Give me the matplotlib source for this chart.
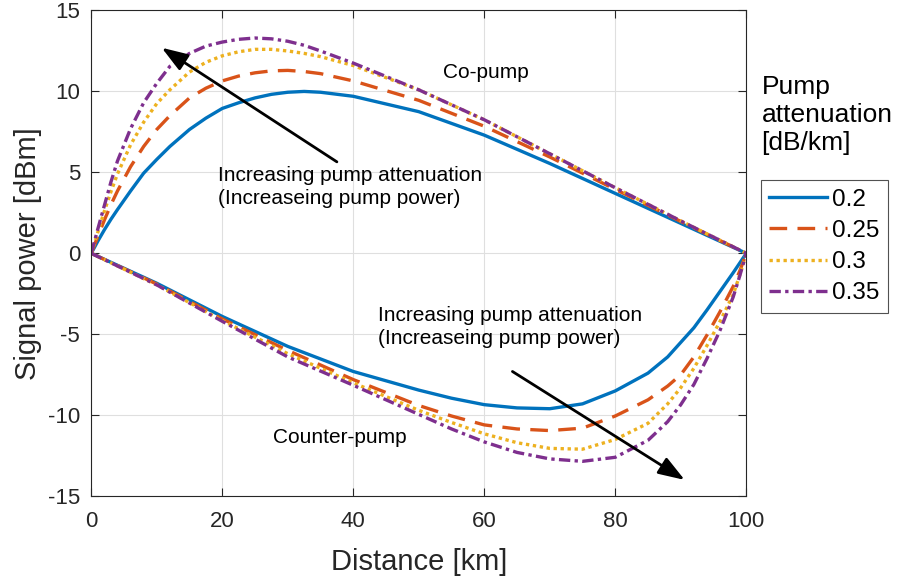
import numpy as np
import matplotlib
matplotlib.use("Agg")
import matplotlib.pyplot as plt

plt.rcParams['font.family'] = ['Liberation Sans', 'DejaVu Sans']
plt.rcParams['axes.unicode_minus'] = False

# pump attenuation values [dB/km]
attenuations = ['0.2', '0.25', '0.3', '0.35']

# co-pumped signal power [dBm] vs distance [km]
x_co = [0, 1, 2, 3, 4, 6, 8, 10, 12, 15, 17.5, 20, 22.5, 25, 27.5, 30, 32.5, 35, 40, 50, 60, 70, 80, 90, 100]
co_02 = [0, 0.75, 1.45, 2.1, 2.7, 3.85, 4.95, 5.8, 6.6, 7.65, 8.35, 8.95, 9.3, 9.6, 9.82, 9.95, 10.0, 9.95, 9.7, 8.75, 7.3, 5.55, 3.7, 1.85, 0]
co_025 = [0, 1.05, 2.05, 3.0, 3.85, 5.35, 6.6, 7.65, 8.5, 9.6, 10.2, 10.65, 10.95, 11.15, 11.27, 11.3, 11.23, 11.1, 10.65, 9.45, 7.85, 5.95, 3.95, 1.97, 0]
co_03 = [0, 1.3, 2.6, 3.8, 4.9, 6.7, 8.1, 9.25, 10.1, 11.2, 11.8, 12.2, 12.45, 12.6, 12.6, 12.5, 12.35, 12.15, 11.6, 10.1, 8.25, 6.15, 4.05, 2.0, 0]
co_035 = [0, 1.5, 2.95, 4.4, 5.7, 7.7, 9.3, 10.5, 11.55, 12.35, 12.8, 13.05, 13.22, 13.3, 13.25, 13.1, 12.85, 12.5, 11.75, 10.1, 8.25, 6.15, 4.05, 2.0, 0]

# counter-pumped signal power [dBm] vs distance [km]
x_ct = [0, 10, 20, 30, 40, 50, 55, 60, 65, 70, 75, 80, 85, 88, 90, 92, 94, 96, 98, 99, 100]
ct_02 = [0, -1.85, -3.9, -5.75, -7.3, -8.45, -8.95, -9.35, -9.55, -9.6, -9.3, -8.5, -7.4, -6.4, -5.5, -4.6, -3.5, -2.35, -1.2, -0.6, 0]
ct_025 = [0, -1.9, -4.05, -6.0, -7.8, -9.4, -10.05, -10.6, -10.85, -10.95, -10.8, -10.05, -9.05, -8.2, -7.5, -6.4, -5.05, -3.6, -2.05, -1.1, 0]
ct_03 = [0, -1.95, -4.15, -6.2, -8.0, -9.7, -10.45, -11.15, -11.7, -12.05, -12.1, -11.5, -10.5, -9.3, -8.3, -7.1, -5.7, -4.2, -2.55, -1.35, 0]
ct_035 = [0, -1.95, -4.2, -6.4, -8.15, -9.95, -10.85, -11.65, -12.3, -12.7, -12.85, -12.6, -11.55, -10.4, -9.35, -8.1, -6.5, -4.75, -2.7, -1.4, 0]

co_curves = [co_02, co_025, co_03, co_035]
ct_curves = [ct_02, ct_025, ct_03, ct_035]

colors = ['#0072BD', '#D95319', '#EDB120', '#7E2F8E']
styles = ['-', (0, (5.3, 3.1)), (0, (1, 1.1)), (0, (3.4, 1.3, 1, 1.3))]
dark = '#262626'

fig = plt.figure(figsize=(9, 5.83), dpi=100)
ax = fig.add_axes([0.1014, 0.149, 0.7278, 0.833])

handles = []
for co, ct, c, ls, lab in zip(co_curves, ct_curves, colors, styles, attenuations):
    h, = ax.plot(x_co, co, color=c, linestyle=ls, lw=2.4, label=lab)
    ax.plot(x_ct, ct, color=c, linestyle=ls, lw=2.4)
    handles.append(h)

ax.set_xlim(0, 100)
ax.set_ylim(-15, 15)
ax.set_xticks(range(0, 101, 20))
ax.set_yticks(range(-15, 16, 5))
ax.grid(True, color='#dfdfdf', lw=0.8)
ax.set_axisbelow(True)
for s in ax.spines.values():
    s.set_color(dark)
    s.set_linewidth(0.8)
ax.tick_params(direction='in', length=6, top=True, right=True,
               labelsize=16, colors=dark, width=0.8)
ax.tick_params(axis='x', pad=10.5)
ax.tick_params(axis='y', pad=8)

ax.set_xlabel('Distance [km]', fontsize=21, color=dark, labelpad=12)
ax.set_ylabel('Signal power [dBm]', fontsize=21, color=dark, labelpad=4)

# annotations
ax.text(60.3, 11.2, 'Co-pump', fontsize=15, ha='center', va='center')
ax.text(38.0, -11.4, 'Counter-pump', fontsize=15, ha='center', va='center')
ax.text(19.3, 4.1, 'Increasing pump attenuation\n(Increaseing pump power)',
        fontsize=15, ha='left', va='center', linespacing=1.25)
ax.text(43.8, -4.55, 'Increasing pump attenuation\n(Increaseing pump power)',
        fontsize=15, ha='left', va='center', linespacing=1.25)

arrow = dict(arrowstyle='-|>,head_length=1.0,head_width=0.35', color='k', lw=2,
             shrinkA=0, shrinkB=0, mutation_scale=16)
ax.annotate('', xy=(10.75, 12.7), xytext=(37.5, 5.65), arrowprops=arrow)
ax.annotate('', xy=(90.6, -14.0), xytext=(64.3, -7.3), arrowprops=arrow)

# legend with title placed above its box
fig.text(0.846, 0.8027, 'Pump\nattenuation\n[dB/km]', fontsize=19,
         ha='left', va='center', linespacing=1.2)
leg = ax.legend(handles=handles, loc='upper left', bbox_to_anchor=(0.845, 0.691),
                bbox_transform=fig.transFigure, fontsize=17.5, frameon=True,
                fancybox=False, borderaxespad=0, borderpad=0.35,
                handlelength=2.4, handletextpad=0.2, labelspacing=0.38)
leg.get_frame().set_edgecolor(dark)
leg.get_frame().set_linewidth(0.8)

fig.savefig('out.png', dpi=100)
